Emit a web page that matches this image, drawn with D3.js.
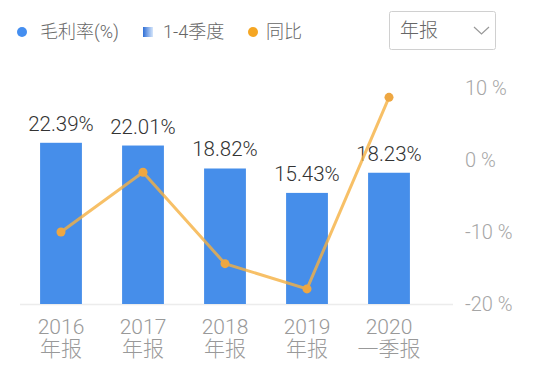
<!DOCTYPE html>
<meta charset="utf-8">
<script src="https://d3js.org/d3.v7.min.js"></script>
<style>
  body { margin: 0; background: #fff; }
  text { font-family: Roboto, "Noto Sans CJK SC", sans-serif; font-weight: 300; }
</style>
<div id="my_dataviz"></div>
<script>

// data
var categories = ["2016|年报", "2017|年报", "2018|年报", "2019|年报", "2020|一季报"];
var grossMargin = [22.39, 22.01, 18.82, 15.43, 18.23];
var yoy = [-10.0, -1.7, -14.4, -17.9, 8.7];
var rightTicks = [10, 0, -10, -20];
var legendItems = ["毛利率(%)", "1-4季度", "同比"];

var width = 550, height = 374;

var svg = d3.select("#my_dataviz")
  .append("svg")
    .attr("width", width)
    .attr("height", height);

var defs = svg.append("defs");
var grad = defs.append("linearGradient").attr("id", "lg");
grad.append("stop").attr("offset", "0%").attr("stop-color", "#2f6fd6");
grad.append("stop").attr("offset", "100%").attr("stop-color", "#d6e6fb");

// scales
var x = d3.scaleBand()
  .domain(categories)
  .range([20, 430])
  .paddingInner(0.49)
  .paddingOuter(0.245);

var y = d3.scaleLinear()
  .domain([0, 30])
  .range([304, 88]);

var y2 = d3.scaleLinear()
  .domain([-20, 10])
  .range([304, 88]);

// baseline
svg.append("line")
  .attr("x1", 20).attr("x2", 453)
  .attr("y1", 304.5).attr("y2", 304.5)
  .attr("stroke", "#ececec")
  .attr("stroke-width", 1.5);

// bars
svg.selectAll("rect.bar")
  .data(grossMargin)
  .enter()
  .append("rect")
    .attr("class", "bar")
    .attr("x", function(d, i) { return x(categories[i]); })
    .attr("y", function(d) { return y(d); })
    .attr("width", x.bandwidth())
    .attr("height", function(d) { return y(0) - y(d); })
    .attr("fill", "#468eea");

// bar labels
svg.selectAll("text.val")
  .data(grossMargin)
  .enter()
  .append("text")
    .attr("class", "val")
    .attr("x", function(d, i) { return x(categories[i]) + x.bandwidth() / 2; })
    .attr("y", function(d) { return y(d) - 12; })
    .attr("text-anchor", "middle")
    .attr("font-size", 20.5)
    .attr("fill", "#333")
    .text(function(d) { return d.toFixed(2) + "%"; });

// x axis labels
var xl = svg.selectAll("g.xl")
  .data(categories)
  .enter()
  .append("text")
    .attr("text-anchor", "middle")
    .attr("font-size", 21)
    .attr("fill", "#999");
xl.append("tspan")
  .attr("x", function(d) { return x(d) + x.bandwidth() / 2; })
  .attr("y", 334)
  .text(function(d) { return d.split("|")[0]; });
xl.append("tspan")
  .attr("x", function(d) { return x(d) + x.bandwidth() / 2; })
  .attr("y", 356)
  .text(function(d) { return d.split("|")[1]; });

// right axis labels
svg.selectAll("text.r")
  .data(rightTicks)
  .enter()
  .append("text")
    .attr("class", "r")
    .attr("x", 465)
    .attr("y", function(d) { return y2(d); })
    .attr("dy", "0.35em")
    .attr("font-size", 20)
    .attr("fill", "#a6a6a6")
    .text(function(d) { return d + " %"; });

// yoy line
var line = d3.line()
  .x(function(d, i) { return x(categories[i]) + x.bandwidth() / 2; })
  .y(function(d) { return y2(d); });

svg.append("path")
  .datum(yoy)
  .attr("d", line)
  .attr("fill", "none")
  .attr("stroke", "#f5b041")
  .attr("stroke-opacity", 0.8)
  .attr("stroke-width", 3);

svg.selectAll("circle.pt")
  .data(yoy)
  .enter()
  .append("circle")
    .attr("cx", function(d, i) { return x(categories[i]) + x.bandwidth() / 2; })
    .attr("cy", function(d) { return y2(d); })
    .attr("r", 4.5)
    .attr("fill", "#eea742");

// legend
var lg = svg.append("g");
lg.append("circle").attr("cx", 22).attr("cy", 32).attr("r", 5).attr("fill", "#448ef0");
lg.append("rect").attr("x", 143).attr("y", 27).attr("width", 10).attr("height", 10).attr("fill", "url(#lg)");
lg.append("circle").attr("cx", 253).attr("cy", 32).attr("r", 5).attr("fill", "#f5a623");
var lx = [40, 163, 266];
legendItems.forEach(function(t, i) {
  lg.append("text")
    .attr("x", lx[i]).attr("y", 32).attr("dy", "0.35em")
    .attr("font-size", 18).attr("fill", "#666")
    .text(t);
});

// dropdown
svg.append("rect")
  .attr("x", 389.5).attr("y", 11.5).attr("width", 106).attr("height", 38)
  .attr("rx", 2)
  .attr("fill", "#fff").attr("stroke", "#d0d0d0");
svg.append("text")
  .attr("x", 400).attr("y", 30).attr("dy", "0.35em")
  .attr("font-size", 19).attr("fill", "#666")
  .text("年报");
svg.append("path")
  .attr("d", "M474,27 L481.5,34 L489,27")
  .attr("fill", "none").attr("stroke", "#999").attr("stroke-width", 1.2);

</script>
